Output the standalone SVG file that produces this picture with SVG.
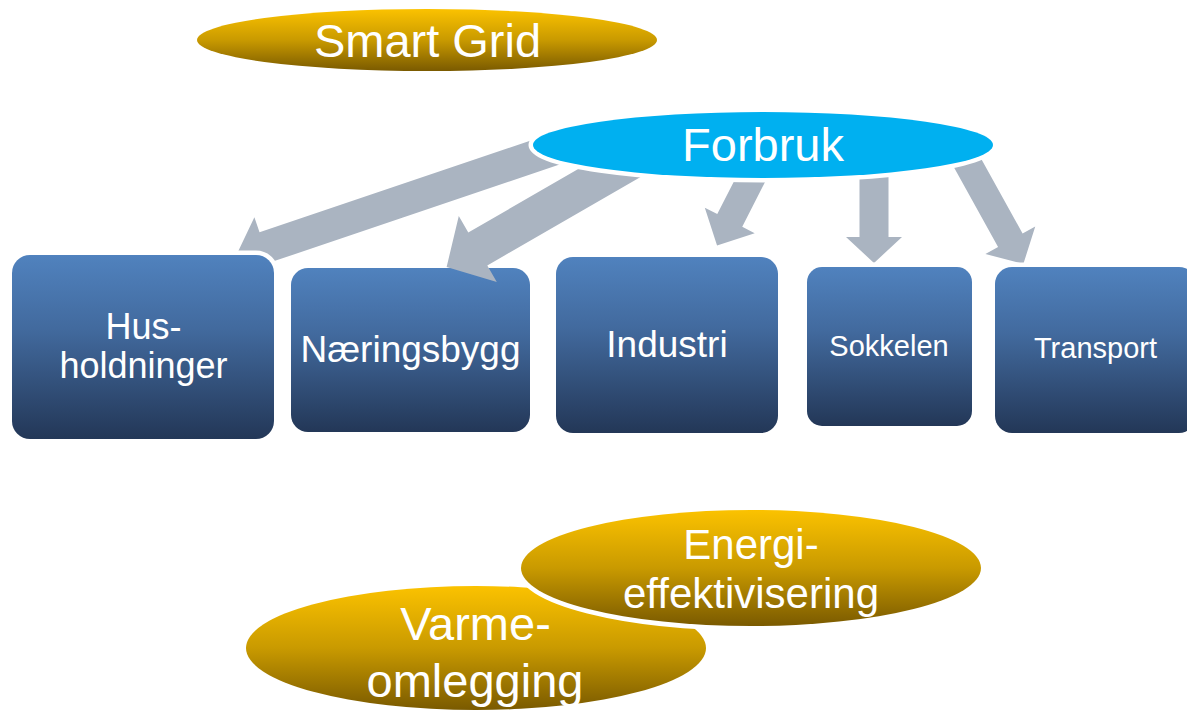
<svg xmlns="http://www.w3.org/2000/svg" width="1187" height="712" viewBox="0 0 1187 712">
<defs>
<linearGradient id="gold" x1="0" y1="0" x2="0" y2="1">
<stop offset="0" stop-color="#FBC200"/>
<stop offset="0.5" stop-color="#C99A00"/>
<stop offset="1" stop-color="#7A5A00"/>
</linearGradient>
<linearGradient id="blue" x1="0" y1="0" x2="0" y2="1">
<stop offset="0" stop-color="#5082BE"/>
<stop offset="0.4" stop-color="#426A9E"/>
<stop offset="1" stop-color="#233757"/>
</linearGradient>
</defs>
<style>
text{font-family:"Liberation Sans",Arial,sans-serif;fill:#fff;text-anchor:middle}
.box{fill:url(#blue);stroke:#fff;stroke-width:9;paint-order:stroke}
.gold{fill:url(#gold);stroke:#fff;stroke-width:9;paint-order:stroke}
.arrow{fill:#AAB4C1}
</style>
<g id="smart-grid">
<ellipse cx="427" cy="40" rx="230" ry="31" fill="url(#gold)"/>
<text x="427.5" y="57" font-size="47">Smart Grid</text>
</g>
<g id="naeringsbygg">
<rect class="box" x="291" y="268" width="239" height="164" rx="17"/>
<text x="410.5" y="362" font-size="37">Næringsbygg</text>
</g>
<g id="connectors">
<polygon class="arrow" points="0,-16 323,-16 323,-32 354,0 323,32 323,16 0,16" transform="translate(570.6,143.9) rotate(161.3)"/>
<polygon class="arrow" points="0,-19 200,-19 200,-38 236,0 200,38 200,19 0,19" transform="translate(651,149) rotate(150)"/>
<polygon class="arrow" points="0,-14 60,-14 60,-28 88,0 60,28 60,14 0,14" transform="translate(757,167) rotate(117)"/>
<polygon class="arrow" points="0,-14.5 77,-14.5 77,-28 103,0 77,28 77,14.5 0,14.5" transform="translate(874,160) rotate(90)"/>
<polygon class="arrow" points="0,-14 110,-14 110,-28.5 137,0 110,28.5 110,14 0,14" transform="translate(957,144) rotate(61)"/>
</g>
<g id="husholdninger">
<rect class="box" x="12" y="255" width="262" height="184" rx="18"/>
<text x="143.5" y="339" font-size="36">Hus-</text>
<text x="143.5" y="378" font-size="36">holdninger</text>
</g>
<g id="industri">
<rect class="box" x="556" y="257" width="222" height="176" rx="17"/>
<text x="667" y="357" font-size="37">Industri</text>
</g>
<g id="sokkelen">
<rect class="box" x="807" y="267" width="165" height="159" rx="15"/>
<text x="889" y="356" font-size="29">Sokkelen</text>
</g>
<g id="transport">
<rect class="box" x="995" y="267" width="201" height="166" rx="17"/>
<text x="1095.5" y="358" font-size="29">Transport</text>
</g>
<g id="forbruk">
<ellipse cx="763" cy="145" rx="230" ry="33" fill="#00B0F0" stroke="#fff" stroke-width="9" paint-order="stroke"/>
<text x="763" y="161" font-size="47">Forbruk</text>
</g>
<g id="varmeomlegging">
<ellipse class="gold" cx="476" cy="648" rx="230" ry="62"/>
</g>
<g id="energieffektivisering">
<ellipse class="gold" cx="751" cy="568" rx="230" ry="58"/>
<text x="751" y="559" font-size="42">Energi-</text>
<text x="751" y="608" font-size="42">effektivisering</text>
</g>
<g id="varmeomlegging-text">
<text x="475.5" y="640" font-size="47">Varme-</text>
<text x="475" y="697" font-size="47">omlegging</text>
</g>
</svg>
